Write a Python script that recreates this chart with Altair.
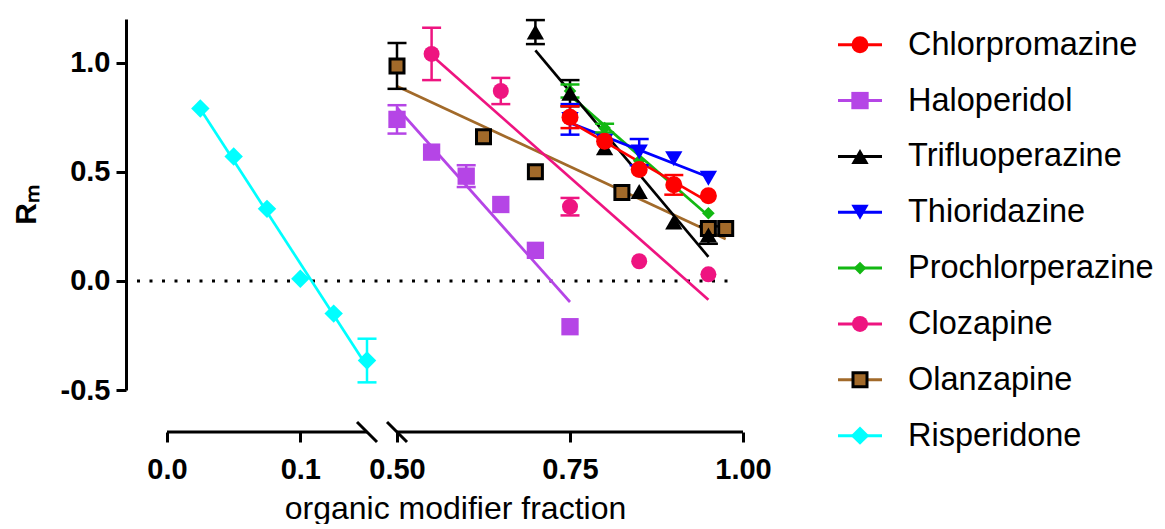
import altair as alt
import pandas as pd

drugs = ["Chlorpromazine", "Haloperidol", "Trifluoperazine", "Thioridazine",
         "Prochlorperazine", "Clozapine", "Olanzapine", "Risperidone"]
colors = ["#FF0000", "#B545E6", "#000000", "#0000FF", "#12B812", "#EE1480", "#A26A2A", "#00FFFF"]
edge_colors = ["#FF0000", "#B545E6", "#000000", "#0000FF", "#12B812", "#EE1480", "#000000", "#00FFFF"]
shapes = ["circle", "square", "triangle-up", "triangle-down", "diamond", "circle", "square", "diamond"]
sizes = [289, 300, 300, 300, 160, 256, 196, 340]
edge_widths = [0, 0, 0, 0, 0, 0, 3, 0]

# broken x axis: two segments
left_dom = [0.0, 0.15]
right_dom = [0.5, 1.0]
x_ticks = [0.0, 0.1, 0.5, 0.75, 1.0]
y_ticks = [-0.5, 0.0, 0.5, 1.0]

# data (organic modifier fraction, Rm, error)
x_chl = [0.75, 0.80, 0.85, 0.90, 0.95]
y_chl = [0.75, 0.64, 0.51, 0.44, 0.39]
e_chl = [0.05, 0.0, 0.0, 0.045, 0.0]

x_hal = [0.50, 0.55, 0.60, 0.65, 0.70, 0.75]
y_hal = [0.74, 0.59, 0.48, 0.35, 0.14, -0.21]
e_hal = [0.065, 0.0, 0.05, 0.0, 0.0, 0.0]

x_tri = [0.70, 0.75, 0.80, 0.85, 0.90, 0.95]
y_tri = [1.14, 0.86, 0.61, 0.41, 0.27, 0.21]
e_tri = [0.055, 0.06, 0.0, 0.0, 0.0, 0.04]

x_thi = [0.75, 0.80, 0.85, 0.90, 0.95]
y_thi = [0.74, 0.64, 0.59, 0.56, 0.47]
e_thi = [0.07, 0.0, 0.06, 0.0, 0.0]

x_pro = [0.75, 0.80, 0.85, 0.90, 0.95]
y_pro = [0.87, 0.70, 0.55, 0.44, 0.31]
e_pro = [0.03, 0.02, 0.0, 0.0, 0.0]

x_clo = [0.55, 0.65, 0.75, 0.85, 0.95]
y_clo = [1.04, 0.87, 0.34, 0.09, 0.03]
e_clo = [0.12, 0.06, 0.04, 0.0, 0.0]

x_ola = [0.50, 0.625, 0.70, 0.825, 0.95, 0.975]
y_ola = [0.985, 0.66, 0.50, 0.405, 0.24, 0.24]
e_ola = [0.105, 0.0, 0.0, 0.0, 0.0, 0.0]

x_ris = [0.025, 0.05, 0.075, 0.10, 0.125, 0.15]
y_ris = [0.79, 0.57, 0.33, 0.01, -0.15, -0.365]
e_ris = [0.0, 0.0, 0.0, 0.0, 0.0, 0.10]

series = {
    "Chlorpromazine": (x_chl, y_chl, e_chl),
    "Haloperidol": (x_hal, y_hal, e_hal),
    "Trifluoperazine": (x_tri, y_tri, e_tri),
    "Thioridazine": (x_thi, y_thi, e_thi),
    "Prochlorperazine": (x_pro, y_pro, e_pro),
    "Clozapine": (x_clo, y_clo, e_clo),
    "Olanzapine": (x_ola, y_ola, e_ola),
    "Risperidone": (x_ris, y_ris, e_ris),
}

rows = []
for d in reversed(drugs):  # first series drawn on top
    xs, ys, es = series[d]
    for a, b, c in zip(xs, ys, es):
        rows.append({"drug": d, "x": a, "y": b, "e": c})
df = pd.DataFrame(rows)
zero_df = pd.DataFrame({"z": [0.0]})
seg_df = pd.DataFrame({"x0": [left_dom[0], right_dom[0]], "x1": [left_dom[1], right_dom[1]]})
brk_df = pd.DataFrame({"b": [left_dom[1], right_dom[0]]})

FONT = "Liberation Sans"
W, H = 576, 371
AX_OFF = 42

color_enc = alt.Color("drug:N", scale=alt.Scale(domain=drugs, range=colors), legend=None)
stroke_enc = alt.Stroke("drug:N", scale=alt.Scale(domain=drugs, range=edge_colors), legend=None)
fill_err = alt.Fill("drug:N", scale=alt.Scale(domain=drugs, range=edge_colors), legend=None)
shape_enc = alt.Shape("drug:N", scale=alt.Scale(domain=drugs, range=shapes), legend=None)
size_enc = alt.Size("drug:N", scale=alt.Scale(type="ordinal", domain=drugs, range=sizes), legend=None)
sw_enc = alt.StrokeWidth("drug:N", scale=alt.Scale(type="ordinal", domain=drugs, range=edge_widths), legend=None)

xscale = alt.Scale(domain=[left_dom[0], left_dom[1], right_dom[0], right_dom[1]],
                   range=[0, 200, 230, W], nice=False, zero=False)
xaxis = alt.Axis(values=x_ticks, domain=False, offset=AX_OFF, title="organic modifier fraction",
                 labelFlush=False,
                 labelExpr="datum.value < 0.3 ? format(datum.value, '.1f') : format(datum.value, '.2f')",
                 titleFontSize=32, titleFontWeight="normal", titlePadding=9)
yscale = alt.Scale(domain=[-0.5, 1.2], nice=False, zero=False)
yaxis = alt.Axis(values=y_ticks, offset=41, title="Rₘ",
                 labelExpr="datum.value < 0 ? '-' + format(-datum.value, '.1f') : format(datum.value, '.1f')",
                 titleFontSize=30, titleFontWeight="bold", titlePadding=19)

X = lambda f: alt.X(f, scale=xscale, axis=xaxis)
Y = lambda f: alt.Y(f, scale=yscale, axis=yaxis)

base = alt.Chart(df)
zero = alt.Chart(zero_df).mark_rule(strokeDash=[3, 9.5], strokeWidth=3, color="black").encode(
    y=Y("z:Q"), x=alt.value(-30), x2=alt.value(W - 10))
lines = base.transform_regression("x", "y", groupby=["drug"]).mark_line(strokeWidth=2.7).encode(
    x=X("x:Q"), y=Y("y:Q"), color=color_enc)
err = base.transform_filter("datum.e > 0").transform_calculate(
    lo="datum.y - datum.e", hi="datum.y + datum.e")
ebar = err.mark_rule(strokeWidth=2.5).encode(x=X("x:Q"), y=Y("lo:Q"), y2="hi:Q", stroke=stroke_enc)
cap_lo = err.mark_tick(orient="horizontal", size=19, thickness=2.5, opacity=1).encode(
    x=X("x:Q"), y=Y("lo:Q"), fill=fill_err)
cap_hi = err.mark_tick(orient="horizontal", size=19, thickness=2.5, opacity=1).encode(
    x=X("x:Q"), y=Y("hi:Q"), fill=fill_err)
pts = base.mark_point(filled=True, opacity=1).encode(
    x=X("x:Q"), y=Y("y:Q"), color=color_enc, stroke=stroke_enc,
    shape=shape_enc, size=size_enc, strokeWidth=sw_enc)
segs = alt.Chart(seg_df).mark_rule(strokeWidth=3, color="black").encode(
    x=X("x0:Q"), x2="x1:Q", y=alt.value(H + AX_OFF))
brks = alt.Chart(brk_df).mark_rule(strokeWidth=3, color="black", xOffset=-10, x2Offset=10).encode(
    x=X("b:Q"), x2="b:Q", y=alt.value(H + AX_OFF - 10), y2=alt.value(H + AX_OFF + 10))

main = alt.layer(zero, lines, ebar, cap_lo, cap_hi, pts, segs, brks)

# legend drawn as marks to the right of the plot
ly = alt.Y("drug:N", scale=alt.Scale(domain=drugs, type="point", range=[25.7, 416.65], padding=0), axis=None)
lbase = alt.Chart(pd.DataFrame({"drug": drugs}))
LX = 671
leg = alt.layer(
    lbase.mark_rule(strokeWidth=3).encode(y=ly, x=alt.value(LX), x2=alt.value(LX + 44), color=color_enc),
    lbase.mark_point(filled=True, opacity=1).encode(y=ly, x=alt.value(LX + 22), color=color_enc,
                                                    stroke=stroke_enc, shape=shape_enc, size=size_enc,
                                                    strokeWidth=sw_enc),
    lbase.mark_text(align="left", baseline="middle", fontSize=32.5, font=FONT, color="black").encode(
        y=ly, x=alt.value(LX + 70), text="drug:N"),
)

chart = alt.layer(main, leg).resolve_scale(y="independent").properties(
    width=W, height=H,
    padding={"left": 3, "top": 10, "right": 0, "bottom": 0}
).configure_view(stroke=None).configure_axis(
    labelFont=FONT, labelFontSize=29, labelFontWeight="bold", labelColor="black",
    domainColor="black", domainWidth=3, tickColor="black", tickWidth=3, tickSize=10,
    grid=False, titleFont=FONT, titleColor="black"
).configure_axisX(labelPadding=13).configure_axisY(labelPadding=6)

chart.save("out.html", embed_options={"renderer": "svg", "actions": False})
